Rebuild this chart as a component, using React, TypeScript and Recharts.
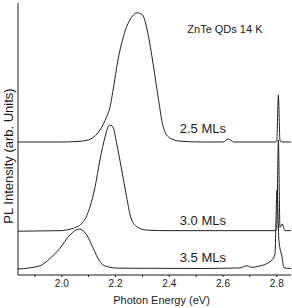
import { LineChart, Line, XAxis, YAxis, ReferenceDot, Label } from "recharts";

// PL spectra, stacked with a vertical offset per sample (arb. units)
const energy25 = [1.837, 2.0, 2.06, 2.093, 2.12, 2.142, 2.167, 2.179, 2.19, 2.21, 2.237, 2.263, 2.28, 2.3, 2.32, 2.34, 2.36, 2.376, 2.4, 2.44, 2.52, 2.6, 2.62, 2.64, 2.795, 2.8, 2.806, 2.812, 2.82, 2.853];
const pl25 = [48.9, 48.9, 49.1, 49.5, 50.8, 53.3, 58.2, 61.5, 67.5, 79.5, 90.1, 95.2, 96.4, 95.6, 89.0, 77.5, 64.5, 55.0, 50.5, 49.2, 48.9, 48.9, 50.0, 48.9, 48.9, 49.3, 66.2, 49.4, 48.9, 48.9];

const energy30 = [1.837, 1.919, 1.993, 2.043, 2.08, 2.105, 2.124, 2.142, 2.161, 2.172, 2.179, 2.187, 2.192, 2.204, 2.223, 2.241, 2.256, 2.279, 2.316, 2.403, 2.795, 2.8, 2.806, 2.812, 2.82, 2.83, 2.853];
const pl30 = [16.1, 16.2, 16.3, 17.2, 19.6, 25.1, 32.5, 42.3, 50.8, 54.4, 55.1, 54.8, 54.0, 48.5, 38.6, 28.8, 21.4, 17.8, 16.5, 16.3, 16.3, 17.0, 49.6, 17.5, 18.8, 16.3, 16.3];

const energy35 = [1.837, 1.919, 1.956, 1.993, 2.03, 2.065, 2.093, 2.117, 2.142, 2.167, 2.217, 2.514, 2.663, 2.689, 2.708, 2.726, 2.767, 2.782, 2.793, 2.801, 2.808, 2.815, 2.819, 2.827, 2.853];
const pl35 = [2.2, 3.4, 6.1, 9.8, 14.7, 16.9, 14.7, 9.8, 4.9, 3.1, 2.5, 2.4, 2.6, 3.4, 2.8, 3.1, 4.4, 5.5, 7.4, 31.3, 12.9, 8.5, 7.0, 2.6, 2.4];

const energyTicks = [1.9, 2.0, 2.1, 2.2, 2.3, 2.4, 2.5, 2.6, 2.7, 2.8];

const sampleLabels = ["2.5 MLs", "3.0 MLs", "3.5 MLs"];
const labelEnergy = [2.525, 2.525, 2.525];
const labelLevel = [54.0, 20.2, 6.6];

const toPoints = (es: number[], vs: number[]) => es.map((e, i) => ({ e, v: vs[i] }));

const FONT = "'Liberation Sans', Arial, sans-serif";
const INK = "#1a1a1a";

export default function App() {
  const series = [
    toPoints(energy25, pl25),
    toPoints(energy30, pl30),
    toPoints(energy35, pl35),
  ];

  return (
    <div style={{ position: "absolute", left: 0, top: 0, background: "#fff" }}>
      <LineChart
        width={292}
        height={308}
        margin={{ top: 3, right: 1, left: 0, bottom: 0 }}
        style={{ fontFamily: FONT }}
      >
        <XAxis
          dataKey="e"
          type="number"
          domain={[1.837, 2.853]}
          allowDataOverflow
          ticks={energyTicks}
          tickFormatter={(t: number) => (Math.round(t * 10) % 2 === 0 ? t.toFixed(1) : "")}
          tickSize={2}
          tickMargin={3}
          height={33}
          axisLine={{ stroke: INK }}
          tickLine={{ stroke: INK }}
          tick={{ fill: INK, fontSize: 10 }}
        >
          <Label
            content={({ viewBox }: any) => (
              <text
                x={viewBox.x + viewBox.width / 2 + 7}
                y={viewBox.y + 25}
                dominantBaseline="central"
                textAnchor="middle"
                fontSize={11}
                fill={INK}
              >
                Photon Energy (eV)
              </text>
            )}
          />
        </XAxis>
        <XAxis xAxisId="top" orientation="top" type="number" domain={[1.837, 2.853]} height={0} tick={false} tickLine={false} axisLine={{ stroke: INK }} />
        <YAxis
          type="number"
          domain={[0, 100]}
          width={18}
          tick={false}
          tickLine={false}
          axisLine={{ stroke: INK }}
        >
          <Label
            content={({ viewBox }: any) => {
              const cx = viewBox.x + 8;
              const cy = viewBox.y + viewBox.height / 2 + 17;
              return (
                <text
                  x={cx}
                  y={cy}
                  transform={`rotate(-90 ${cx} ${cy})`}
                  dominantBaseline="central"
                  textAnchor="middle"
                  fontSize={13}
                  fill={INK}
                >
                  PL Intensity (arb. Units)
                </text>
              );
            }}
          />
        </YAxis>
        <YAxis yAxisId="right" orientation="right" type="number" domain={[0, 100]} width={0} tick={false} tickLine={false} axisLine={{ stroke: INK }} />

        {series.map((pts, i) => (
          <Line
            key={sampleLabels[i]}
            data={pts}
            dataKey="v"
            type="monotone"
            stroke="#222"
            strokeWidth={1}
            dot={false}
            isAnimationActive={false}
          />
        ))}

        {sampleLabels.map((name, i) => (
          <ReferenceDot
            key={name}
            x={labelEnergy[i]}
            y={labelLevel[i]}
            r={0}
            fill="none"
            stroke="none"
            label={{ value: name, position: "center", fill: INK, fontSize: 13 }}
          />
        ))}
        <ReferenceDot
          x={2.607}
          y={90.4}
          r={0}
          fill="none"
          stroke="none"
          label={{ value: "ZnTe QDs 14 K", position: "center", fill: INK, fontSize: 11 }}
        />
      </LineChart>
    </div>
  );
}
